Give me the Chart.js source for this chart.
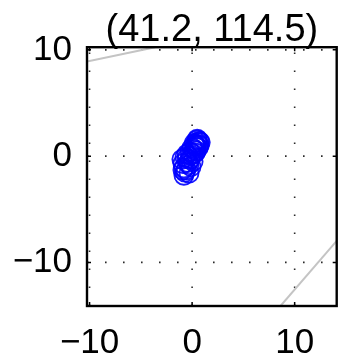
<!DOCTYPE html>
<html lang="en">
<head>
<meta charset="UTF-8">
<title>(41.2, 114.5)</title>
<script src="https://cdn.jsdelivr.net/npm/chart.js"></script>
<style>
  body { margin: 0; background: #fff; }
  .wrap { width: 348px; height: 360px; }
</style>
</head>
<body>
<div class="wrap"><canvas id="scatterChart" width="348" height="360"></canvas></div>
<script>
  const titleText = '(41.2, 114.5)';
  const xTicks = [-10, 0, 10];
  const yTicks = [-10, 0, 10];
  const xRange = [-10.25, 14.1];
  const yRange = [-14.1, 10.25];

  // blue circles near the origin
  const clusterX = [-1.0, -0.9, -0.8, -0.7, -0.8, -0.6, -0.5, -0.5, -0.3, -0.2, -0.2, -0.1, 0.1, 0.0, 0.2, 0.3, 0.4, 0.5, 0.6, 0.5, 0.7, 0.3,
                    -0.4, -0.7, 0.1, 0.4, 0.6, -0.1, -0.9, 0.2, 0.7, -0.3, 0.8, 0.5, 0.3];
  const clusterY = [-0.3, -0.7, -1.1, -1.5, -1.8, -1.3, -0.2, 0.2, -0.8, -0.3, 0.4, -1.0, 0.2, 0.8, 0.6, 0.3, 1.0, 1.3, 1.1, 1.6, 1.4, 0.9,
                    -0.6, -0.1, -0.5, 0.5, 0.8, 0.1, -1.3, 1.2, 1.0, -1.6, 1.3, 1.5, 1.1];

  // gray track pieces, cut off by the axes
  const trackAX = [-10.25, -3.6];
  const trackAY = [8.9, 10.25];
  const trackBX = [8.62, 14.1];
  const trackBY = [-14.1, -7.97];

  const fontFamily = '"Liberation Sans", Arial, sans-serif';

  function toPoints(xs, ys) {
    return xs.map((x, i) => ({ x: x, y: ys[i] }));
  }

  function minusLabel(v) {
    return v < 0 ? '\u2212' + Math.abs(v) : String(v);
  }

  // dotted grid at the major ticks (drawn under the data)
  const gridPlugin = {
    id: 'dotGrid',
    beforeDatasetsDraw(chart) {
      const ctx = chart.ctx;
      const a = chart.chartArea;
      const sx = chart.scales.x;
      const sy = chart.scales.y;
      ctx.save();
      ctx.strokeStyle = '#2a2a2a';
      ctx.lineWidth = 1.6;
      ctx.setLineDash([1.6, 16.4]);
      xTicks.forEach(v => {
        const px = sx.getPixelForValue(v);
        ctx.beginPath();
        ctx.moveTo(px, a.bottom);
        ctx.lineTo(px, a.top);
        ctx.stroke();
      });
      yTicks.forEach(v => {
        const py = sy.getPixelForValue(v);
        ctx.beginPath();
        ctx.moveTo(a.left, py);
        ctx.lineTo(a.right, py);
        ctx.stroke();
      });
      ctx.restore();
    }
  };

  // frame box + inward tick marks like matlab axes
  const boxPlugin = {
    id: 'boxFrame',
    afterDraw(chart) {
      const ctx = chart.ctx;
      const a = chart.chartArea;
      const sx = chart.scales.x;
      const sy = chart.scales.y;
      ctx.save();
      ctx.strokeStyle = '#000';
      ctx.lineWidth = 1.5;
      ctx.beginPath();
      xTicks.forEach(v => {
        const px = sx.getPixelForValue(v);
        ctx.moveTo(px, a.bottom); ctx.lineTo(px, a.bottom - 4);
        ctx.moveTo(px, a.top); ctx.lineTo(px, a.top + 4);
      });
      yTicks.forEach(v => {
        const py = sy.getPixelForValue(v);
        ctx.moveTo(a.left, py); ctx.lineTo(a.left + 4, py);
        ctx.moveTo(a.right, py); ctx.lineTo(a.right - 4, py);
      });
      ctx.stroke();
      ctx.lineWidth = 2.4;
      ctx.strokeRect(a.left, a.top, a.right - a.left, a.bottom - a.top);
      ctx.restore();
    }
  };

  const ctx = document.getElementById('scatterChart').getContext('2d');
  new Chart(ctx, {
    type: 'scatter',
    data: {
      datasets: [
        {
          type: 'line',
          data: toPoints(trackAX, trackAY),
          borderColor: '#c4c4c4',
          borderWidth: 2,
          pointRadius: 0,
          fill: false
        },
        {
          type: 'line',
          data: toPoints(trackBX, trackBY),
          borderColor: '#c4c4c4',
          borderWidth: 2,
          pointRadius: 0,
          fill: false
        },
        {
          data: toPoints(clusterX, clusterY),
          pointRadius: 9.5,
          pointBorderWidth: 1.8,
          pointBackgroundColor: 'rgba(0,0,0,0)',
          pointBorderColor: 'rgba(0,0,255,0.9)',
          pointHoverRadius: 9.5
        }
      ]
    },
    options: {
      responsive: false,
      animation: false,
      layout: { padding: { right: 3, left: 0, top: 0, bottom: 0 } },
      plugins: {
        legend: { display: false },
        tooltip: { enabled: false },
        title: {
          display: true,
          text: titleText,
          fullSize: false,
          color: '#000',
          font: { family: fontFamily, size: 38, weight: 'normal', lineHeight: 0.9 },
          padding: { top: 13, bottom: 0 }
        }
      },
      scales: {
        x: {
          type: 'linear',
          min: xRange[0],
          max: xRange[1],
          afterBuildTicks: s => { s.ticks = xTicks.map(v => ({ value: v })); },
          afterFit: s => { s.height = 54; },
          border: { display: false },
          grid: { display: false, drawTicks: false },
          ticks: {
            color: '#000',
            padding: 16,
            maxRotation: 0,
            font: { family: fontFamily, size: 35 },
            callback: minusLabel
          }
        },
        y: {
          type: 'linear',
          min: yRange[0],
          max: yRange[1],
          afterBuildTicks: s => { s.ticks = yTicks.map(v => ({ value: v })); },
          afterFit: s => { s.width = 87; },
          border: { display: false },
          grid: { display: false, drawTicks: false },
          ticks: {
            color: '#000',
            padding: 15,
            font: { family: fontFamily, size: 35 },
            callback: minusLabel
          }
        }
      }
    },
    plugins: [gridPlugin, boxPlugin]
  });
</script>
</body>
</html>
